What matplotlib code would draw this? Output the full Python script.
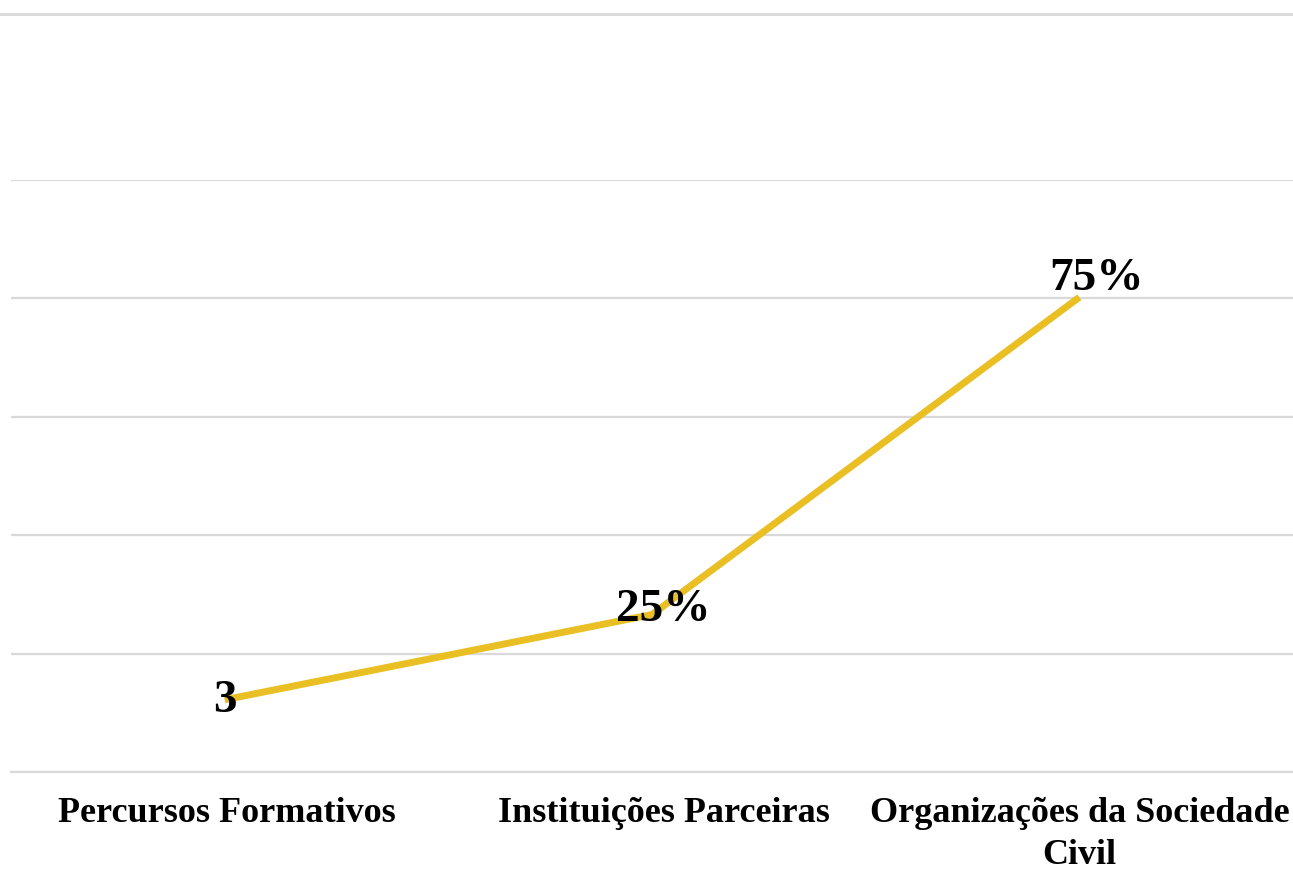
import matplotlib
matplotlib.use("Agg")
import matplotlib.pyplot as plt
from matplotlib.lines import Line2D
from matplotlib.transforms import ScaledTranslation

# data (grid units: one per gridline)
categories = ["Percursos Formativos", "Instituições Parceiras", "Organizações da Sociedade\nCivil"]
values = [0.61, 1.33, 4.01]
labels = ["3", "25%", "75%"]
grid_ticks = [0, 1, 2, 3, 4, 5]

LINE_COLOR = "#E9BF24"
GRID_COLOR = "#D9D9D9"
SERIF = ["Liberation Serif", "DejaVu Serif"]

fig = plt.figure(figsize=(12.93, 8.73), dpi=100)
ax = fig.add_axes([11 / 1293, 101 / 873, 1282 / 1293, 592 / 873])

x = list(range(len(categories)))
ax.plot(x, values, color=LINE_COLOR, lw=5, solid_capstyle="butt", zorder=3)

# data labels sit on the points
offsets = [(0, -1), (8, 3), (12, 13)]
for xi, v, lab, off in zip(x, values, labels, offsets):
    ax.annotate(lab, (xi, v), xytext=off, textcoords="offset points",
                ha="center", va="center", fontsize=34, fontweight="bold",
                family=SERIF, color="black", zorder=4)

ax.set_xlim(-0.5, 2.5)
ax.set_ylim(0, 5)
ax.set_yticks(grid_ticks)
ax.set_yticklabels([])
ax.tick_params(axis="y", length=0)
ax.grid(axis="y", color=GRID_COLOR, lw=1.6)
ax.set_axisbelow(True)

ax.set_xticks(x)
ticklabels = ax.set_xticklabels(categories, family=SERIF, fontsize=26,
                                fontweight="bold", linespacing=1.35)
ax.tick_params(axis="x", length=0, pad=18)
# nudge the category labels to the right, keeping the last one inside the picture
for t, dx in zip(ticklabels, [2, 12, 0]):
    t.set_transform(t.get_transform() + ScaledTranslation(dx / 100, 0, fig.dpi_scale_trans))

for side in ["top", "left", "right"]:
    ax.spines[side].set_visible(False)
ax.spines["bottom"].set_color(GRID_COLOR)
ax.spines["bottom"].set_linewidth(1.6)

# thin rule along the top of the picture
fig.add_artist(Line2D([0, 1], [1 - 14 / 873, 1 - 14 / 873], color=GRID_COLOR,
                      lw=2, transform=fig.transFigure))

fig.savefig("out.png", dpi=100, facecolor="white")
